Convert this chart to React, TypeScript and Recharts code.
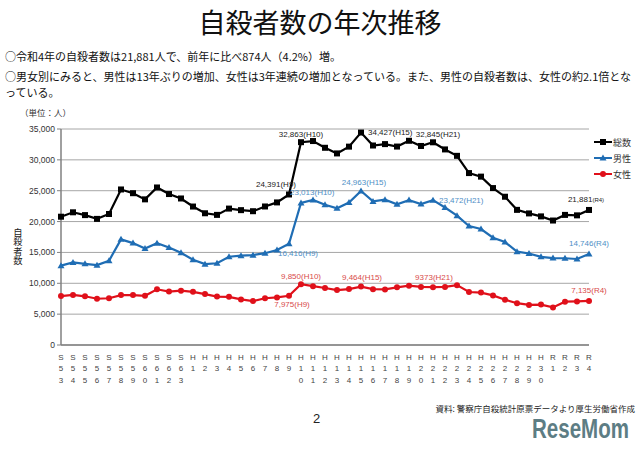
import React from "react"
import { LineChart, Line, XAxis, YAxis, CartesianGrid } from "recharts"

const years = [
  "S53", "S54", "S55", "S56", "S57", "S58", "S59", "S60", "S61", "S62", "S63",
  "H1", "H2", "H3", "H4", "H5", "H6", "H7", "H8", "H9", "H10",
  "H11", "H12", "H13", "H14", "H15", "H16", "H17", "H18", "H19", "H20",
  "H21", "H22", "H23", "H24", "H25", "H26", "H27", "H28", "H29", "H30",
  "R1", "R2", "R3", "R4",
]

const total = [
  20788, 21503, 21048, 20434, 21228, 25202, 24596, 23599, 25524, 24460, 23742,
  22436, 21346, 21084, 22104, 21851, 21679, 22445, 23104, 24391, 32863,
  33048, 31957, 31042, 32143, 34427, 32325, 32552, 32155, 33093, 32249,
  32845, 31690, 30651, 27858, 27283, 25427, 24025, 21897, 21321, 20840,
  20169, 21081, 21007, 21881,
]

const male = [
  12859, 13386, 13155, 12942, 13654, 17116, 16508, 15624, 16497, 15802, 14934,
  13818, 13102, 13242, 14296, 14468, 14560, 14874, 15393, 16416, 23013,
  23512, 22727, 22144, 23080, 24963, 23272, 23540, 22813, 23478, 22831,
  23472, 22283, 20955, 19273, 18787, 17386, 16681, 15121, 14826, 14290,
  14078, 14055, 13939, 14746,
]

const female = [
  7929, 8117, 7893, 7492, 7574, 8086, 8088, 7975, 9027, 8658, 8808,
  8618, 8244, 7842, 7808, 7383, 7119, 7571, 7711, 7975, 9850,
  9536, 9230, 8898, 9063, 9464, 9053, 9012, 9342, 9615, 9418,
  9373, 9407, 9696, 8585, 8496, 8041, 7344, 6776, 6495, 6550,
  6091, 7026, 7068, 7135,
]

const yTicks = [0, 5000, 10000, 15000, 20000, 25000, 30000, 35000]

// 注記（年 → 表示テキスト）
const totalNotes: Record<string, string> = {
  H9: "24,391(H9)", H10: "32,863(H10)", H15: "34,427(H15)", H21: "32,845(H21)", R4: "21,881",
}
const maleNotes: Record<string, string> = {
  H9: "16,416(H9)", H10: "23,013(H10)", H15: "24,963(H15)", H21: "23,472(H21)", R4: "14,746(R4)",
}
const femaleNotes: Record<string, string> = {
  H9: "7,975(H9)", H10: "9,850(H10)", H15: "9,464(H15)", H21: "9373(H21)", R4: "7,135(R4)",
}

const data = years.map((year, i) => ({ year, total: total[i], male: male[i], female: female[i] }))

const BLACK = "#000000"
const BLUE = "#1f6db4"
const RED = "#e0101a"
const FONT = "'Noto Sans CJK JP', 'Noto Sans', sans-serif"
const NUMFONT = "'Liberation Sans', Arial, sans-serif"

// 注記位置 [anchor, dx, dy]
const place: Record<string, Record<string, [string, number, number]>> = {
  total: { H9: ["end", 7, -10], H10: ["middle", 0, -8], H15: ["start", 7, 0], H21: ["middle", 5, -8], R4: ["middle", -3, -10] },
  male: { H9: ["start", -11, 10], H10: ["start", -11, -10], H15: ["middle", 3, -8], H21: ["start", 6, 0], R4: ["middle", 0, -10] },
  female: { H9: ["middle", 3, 9], H10: ["middle", 0, -8], H15: ["middle", 1, -9], H21: ["middle", 1, -10], R4: ["middle", 0, -10] },
}

const makeLabel = (key: string, notes: Record<string, string>, color: string) => (props: any) => {
  const { x, y, index } = props
  const yr = years[index]
  const txt = notes[yr]
  if (!txt) return null
  const [anchor, dx, dy] = place[key][yr]
  return (
    <text x={x + dx} y={y + dy} textAnchor={anchor as any} dominantBaseline="central"
      fontSize={8} fontFamily={NUMFONT} fill={color}>
      {txt}
      {key === "total" && yr === "R4" ? <tspan fontSize={6}>(R4)</tspan> : null}
    </text>
  )
}

const SquareDot = (props: any) => {
  const { cx, cy } = props
  if (cx == null || cy == null) return null
  return <rect x={cx - 3} y={cy - 3} width={6} height={6} fill={BLACK} />
}
const TriDot = (props: any) => {
  const { cx, cy } = props
  if (cx == null || cy == null) return null
  return <path d={`M${cx},${cy - 3.5}L${cx + 3.5},${cy + 2.5}L${cx - 3.5},${cy + 2.5}Z`} fill={BLUE} />
}
const CircleDot = (props: any) => {
  const { cx, cy } = props
  if (cx == null || cy == null) return null
  return <circle cx={cx} cy={cy} r={3} fill={RED} />
}

const XTick = (props: any) => {
  const { x, y, payload } = props
  const s: string = payload.value
  const rows = [s[0], s[1], s[2]]
  return (
    <g>
      {rows.map((c, i) =>
        c ? (
          <text key={i} x={x} y={y + 4 + i * 11.5} textAnchor="middle" dominantBaseline="central"
            fontSize={8} fontFamily={NUMFONT} fill="#444">{c}</text>
        ) : null
      )}
    </g>
  )
}

const legendItems = [
  { name: "総数", color: BLACK, shape: "square" },
  { name: "男性", color: BLUE, shape: "tri" },
  { name: "女性", color: RED, shape: "circle" },
]

const LegendBox = () => (
  <div style={{ position: "absolute", left: 594, top: 134, fontFamily: FONT, fontSize: 9, color: "#333" }}>
    {legendItems.map((it) => (
      <div key={it.name} style={{ display: "flex", alignItems: "center", height: 16 }}>
        <svg width={18} height={10}>
          <line x1={0} y1={5} x2={18} y2={5} stroke={it.color} strokeWidth={2} />
          {it.shape === "square" && <rect x={6} y={2} width={6} height={6} fill={it.color} />}
          {it.shape === "tri" && <path d="M9,1.5L12.5,7.5L5.5,7.5Z" fill={it.color} />}
          {it.shape === "circle" && <circle cx={9} cy={5} r={3} fill={it.color} />}
        </svg>
        <span style={{ marginLeft: 1 }}>{it.name}</span>
      </div>
    ))}
  </div>
)

export default function App() {
  return (
    <div style={{ position: "absolute", left: 0, top: 0, width: 640, height: 451, background: "#fff", fontFamily: FONT, overflow: "hidden" }}>
      <div style={{ position: "absolute", left: 0, top: 5, width: 640, textAlign: "center", fontSize: 27, lineHeight: "34px", color: "#111" }}>
        自殺者数の年次推移
      </div>
      <div style={{ position: "absolute", left: 5, top: 48, fontSize: 11, lineHeight: "16px", color: "#111", whiteSpace: "nowrap" }}>
        ○令和4年の自殺者数は21,881人で、前年に比べ874人（4.2%）増。
      </div>
      <div style={{ position: "absolute", left: 5, top: 69, width: 634, fontSize: 11, lineHeight: "15.5px", color: "#111" }}>
        ○男女別にみると、男性は13年ぶりの増加、女性は3年連続の増加となっている。また、男性の自殺者数は、女性の約2.1倍となっている。
      </div>
      <div style={{ position: "absolute", left: 20, top: 106, fontSize: 8.5, color: "#333" }}>（単位：人）</div>
      <div style={{ position: "absolute", left: 11, top: 228, fontSize: 9.3, lineHeight: "14px", color: "#222",
        writingMode: "vertical-rl", textOrientation: "upright" }}>
        自殺者数
      </div>

      <div style={{ position: "absolute", left: 0, top: 0 }}>
        <LineChart width={640} height={451} data={data} margin={{ top: 129, right: 51, bottom: 66, left: 21 }}>
          <CartesianGrid vertical={false} stroke="#a6a6a6" strokeWidth={1} />
          <XAxis dataKey="year" interval={0} height={40} tick={<XTick />} tickLine={false}
            axisLine={{ stroke: "#808080", strokeWidth: 1.5 }} />
          <YAxis width={40} domain={[0, 35000]} ticks={yTicks} interval={0}
            tickFormatter={(v: number) => v.toLocaleString("en-US")}
            tick={{ fontSize: 8.5, fill: "#333", fontFamily: NUMFONT }}
            tickSize={4} tickLine={{ stroke: "#808080" }}
            axisLine={{ stroke: "#808080", strokeWidth: 1.5 }} />
          <YAxis yAxisId="r" orientation="right" width={0} tick={false} tickLine={false}
            axisLine={{ stroke: "#7a7a7a", strokeWidth: 1.2 }} />
          <Line dataKey="total" name="総数" stroke={BLACK} strokeWidth={2.2} isAnimationActive={false}
            dot={<SquareDot />} activeDot={false} label={makeLabel("total", totalNotes, "#222")} />
          <Line dataKey="male" name="男性" stroke={BLUE} strokeWidth={2.2} isAnimationActive={false}
            dot={<TriDot />} activeDot={false} label={makeLabel("male", maleNotes, "#4f8fc6")} />
          <Line dataKey="female" name="女性" stroke={RED} strokeWidth={2.2} isAnimationActive={false}
            dot={<CircleDot />} activeDot={false} label={makeLabel("female", femaleNotes, "#d84a4a")} />
        </LineChart>
      </div>
      <LegendBox />

      <div style={{ position: "absolute", right: 5, top: 402, fontSize: 8.5, lineHeight: "12px", color: "#222", whiteSpace: "nowrap" }}>
        資料: 警察庁自殺統計原票データより厚生労働省作成
      </div>
      <div style={{ position: "absolute", left: 313, top: 411, fontSize: 13, color: "#222", fontFamily: NUMFONT }}>2</div>
      <div style={{ position: "absolute", left: 532, top: 414, fontSize: 27, lineHeight: "30px", fontWeight: 700, color: "#5d7d84", fontFamily: NUMFONT, whiteSpace: "nowrap", transform: "scaleX(0.76)", transformOrigin: "left top" }}>
        ReseMom
      </div>
    </div>
  )
}
